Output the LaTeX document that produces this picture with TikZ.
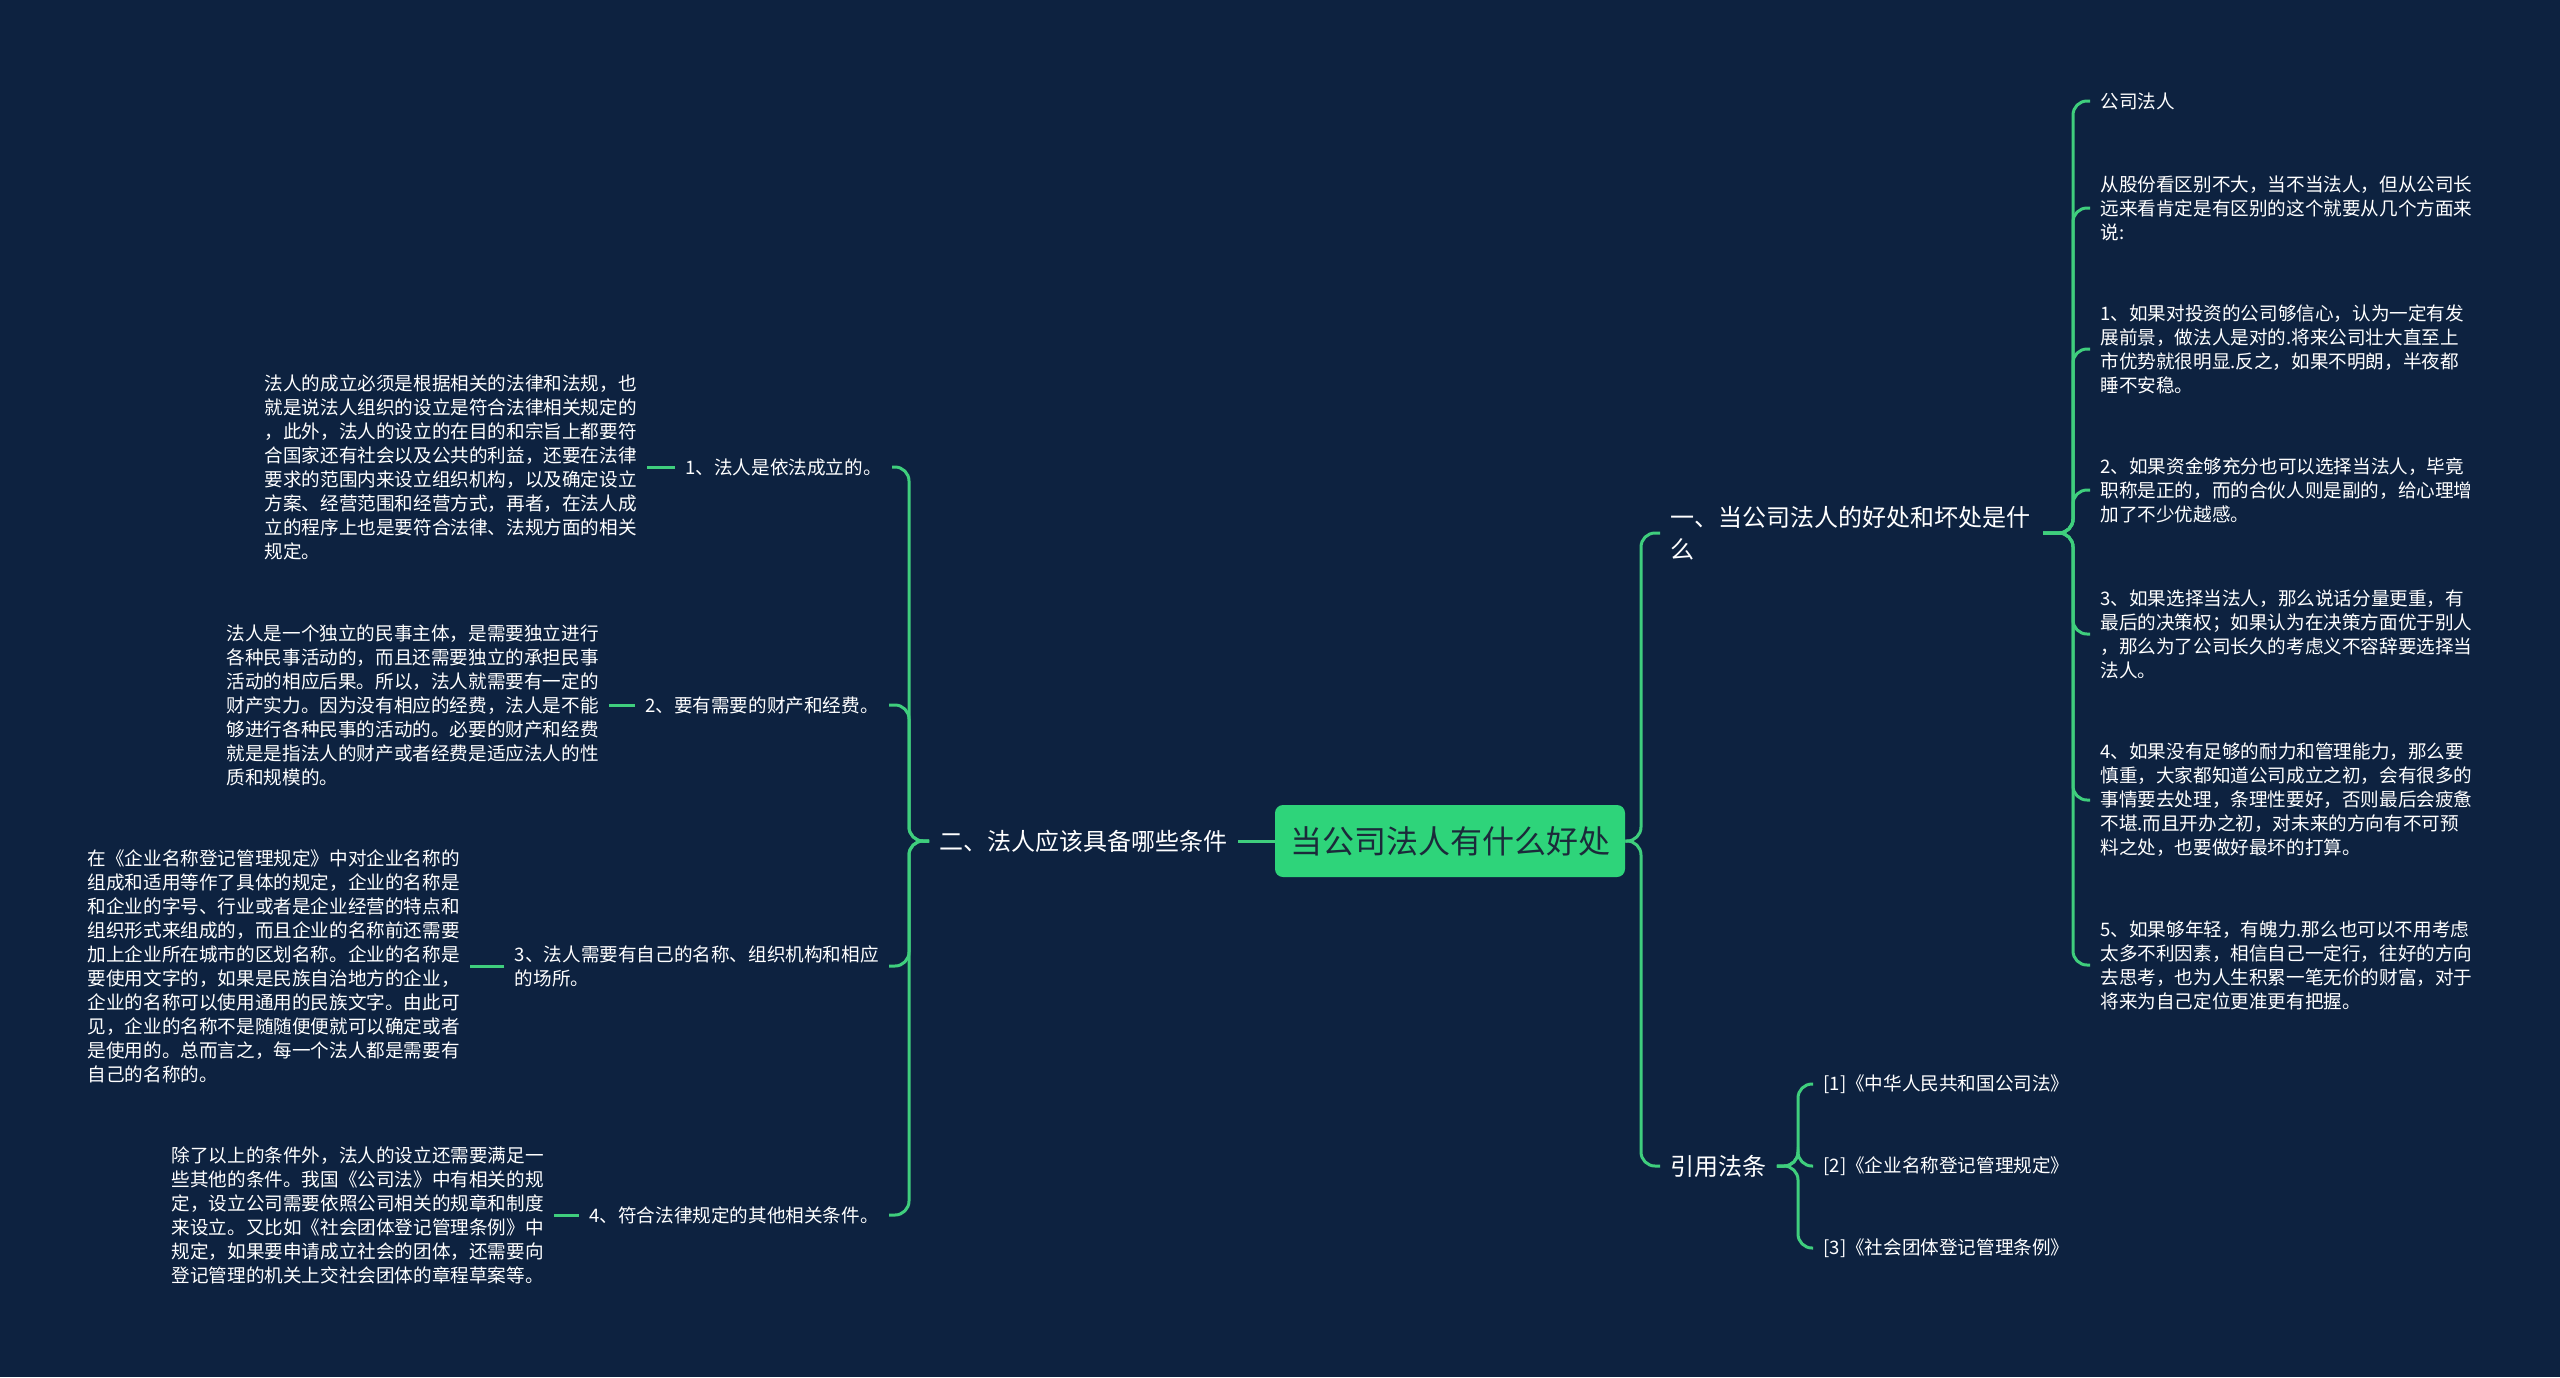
\documentclass[tikz,border=0pt]{standalone}
\usepackage{fontspec}
\newfontfamily\cjk{Noto Sans CJK SC}
\definecolor{bgc}{HTML}{0D2240}
\definecolor{linec}{HTML}{3FCE7D}
\definecolor{rootc}{HTML}{2ED47A}
\definecolor{roottxt}{HTML}{1B2A3A}
\tikzset{
  conn/.style={draw=linec,line width=1.5pt,rounded corners=7pt},
  rootbox/.style={fill=rootc,rounded corners=4pt,minimum width=175pt,minimum height=36pt,inner sep=0pt,text=roottxt,font=\cjk\fontsize{16pt}{20pt}\selectfont},
  lvone/.style={text=white,inner xsep=5pt,inner ysep=2pt,align=left,font=\cjk\fontsize{12pt}{16pt}\selectfont},
  lvtwo/.style={text=white,inner xsep=5pt,inner ysep=2pt,align=left,font=\cjk\fontsize{9.3pt}{12pt}\selectfont},
  leaf/.style={text=white,inner xsep=5pt,inner ysep=2pt,align=left,font=\cjk\fontsize{9.3pt}{12pt}\selectfont},
}
\begin{document}
\begin{tikzpicture}[x=0.5pt,y=-0.5pt]
\fill[bgc] (0,0) rectangle (2560,1377);
\useasboundingbox (0,0) rectangle (2560,1377);

% root
\node[rootbox] (root) at (1450,841) {当公司法人有什么好处};

% left main branch
\node[lvone,anchor=east] (n2) at (1238,841) {二、法人应该具备哪些条件};

\node[lvtwo,anchor=east] (c1) at (892,467) {1、法人是依法成立的。};
\node[lvtwo,anchor=east] (c2) at (889,705) {2、要有需要的财产和经费。};
\node[lvtwo,anchor=east] (c3) at (889,966) {3、法人需要有自己的名称、组织机构和相应\\的场所。};
\node[lvtwo,anchor=east] (c4) at (889,1215) {4、符合法律规定的其他相关条件。};

\node[leaf,anchor=east] (l1) at (647,467) {法人的成立必须是根据相关的法律和法规，也\\就是说法人组织的设立是符合法律相关规定的\\，此外，法人的设立的在目的和宗旨上都要符\\合国家还有社会以及公共的利益，还要在法律\\要求的范围内来设立组织机构，以及确定设立\\方案、经营范围和经营方式，再者，在法人成\\立的程序上也是要符合法律、法规方面的相关\\规定。};
\node[leaf,anchor=east] (l2) at (609,705) {法人是一个独立的民事主体，是需要独立进行\\各种民事活动的，而且还需要独立的承担民事\\活动的相应后果。所以，法人就需要有一定的\\财产实力。因为没有相应的经费，法人是不能\\够进行各种民事的活动的。必要的财产和经费\\就是是指法人的财产或者经费是适应法人的性\\质和规模的。};
\node[leaf,anchor=east] (l3) at (470,966) {在《企业名称登记管理规定》中对企业名称的\\组成和适用等作了具体的规定，企业的名称是\\和企业的字号、行业或者是企业经营的特点和\\组织形式来组成的，而且企业的名称前还需要\\加上企业所在城市的区划名称。企业的名称是\\要使用文字的，如果是民族自治地方的企业，\\企业的名称可以使用通用的民族文字。由此可\\见，企业的名称不是随随便便就可以确定或者\\是使用的。总而言之，每一个法人都是需要有\\自己的名称的。};
\node[leaf,anchor=east] (l4) at (554,1215) {除了以上的条件外，法人的设立还需要满足一\\些其他的条件。我国《公司法》中有相关的规\\定，设立公司需要依照公司相关的规章和制度\\来设立。又比如《社会团体登记管理条例》中\\规定，如果要申请成立社会的团体，还需要向\\登记管理的机关上交社会团体的章程草案等。};

% right main branches
\node[lvone,anchor=west] (n1) at (1660,533) {一、当公司法人的好处和坏处是什\\么};
\node[lvone,anchor=west] (n3) at (1660,1166) {引用法条};

\node[leaf,anchor=west] (r1) at (2090,101) {公司法人};
\node[leaf,anchor=west] (r2) at (2090,208) {从股份看区别不大，当不当法人，但从公司长\\远来看肯定是有区别的这个就要从几个方面来\\说:};
\node[leaf,anchor=west] (r3) at (2090,349) {1、如果对投资的公司够信心，认为一定有发\\展前景，做法人是对的.将来公司壮大直至上\\市优势就很明显.反之，如果不明朗，半夜都\\睡不安稳。};
\node[leaf,anchor=west] (r4) at (2090,490) {2、如果资金够充分也可以选择当法人，毕竟\\职称是正的，而的合伙人则是副的，给心理增\\加了不少优越感。};
\node[leaf,anchor=west] (r5) at (2090,634) {3、如果选择当法人，那么说话分量更重，有\\最后的决策权；如果认为在决策方面优于别人\\，那么为了公司长久的考虑义不容辞要选择当\\法人。};
\node[leaf,anchor=west] (r6) at (2090,800) {4、如果没有足够的耐力和管理能力，那么要\\慎重，大家都知道公司成立之初，会有很多的\\事情要去处理，条理性要好，否则最后会疲惫\\不堪.而且开办之初，对未来的方向有不可预\\料之处，也要做好最坏的打算。};
\node[leaf,anchor=west] (r7) at (2090,965) {5、如果够年轻，有魄力.那么也可以不用考虑\\太多不利因素，相信自己一定行，往好的方向\\去思考，也为人生积累一笔无价的财富，对于\\将来为自己定位更准更有把握。};

\node[lvtwo,anchor=west] (f1) at (1813,1084) {[1]《中华人民共和国公司法》};
\node[lvtwo,anchor=west] (f2) at (1813,1166) {[2]《企业名称登记管理规定》};
\node[lvtwo,anchor=west] (f3) at (1813,1248) {[3]《社会团体登记管理条例》};

% connectors
\coordinate (jl) at (909,841);
\coordinate (jr) at (1641,841);
\coordinate (j1) at (2073,533);
\coordinate (j3) at (1798,1166);

\draw[conn] (root.west) -- (n2.east);
\foreach \c in {c1,c2,c3,c4} \draw[conn] (n2.west) -- (jl) |- (\c.east);
\draw[conn] (c1.west) -- (l1.east);
\draw[conn] (c2.west) -- (l2.east);
\draw[conn] (c3.west) -- (l3.east);
\draw[conn] (c4.west) -- (l4.east);

\draw[conn] (root.east) -- (jr) |- (n1.west);
\draw[conn] (root.east) -- (jr) |- (n3.west);
\foreach \c in {r1,r2,r3,r4,r5,r6,r7} \draw[conn] (n1.east -| 2043,0) -- (j1) |- (\c.west);
\foreach \c in {f1,f2,f3} \draw[conn] (n3.east) -- (j3) |- (\c.west);
\end{tikzpicture}
\end{document}
